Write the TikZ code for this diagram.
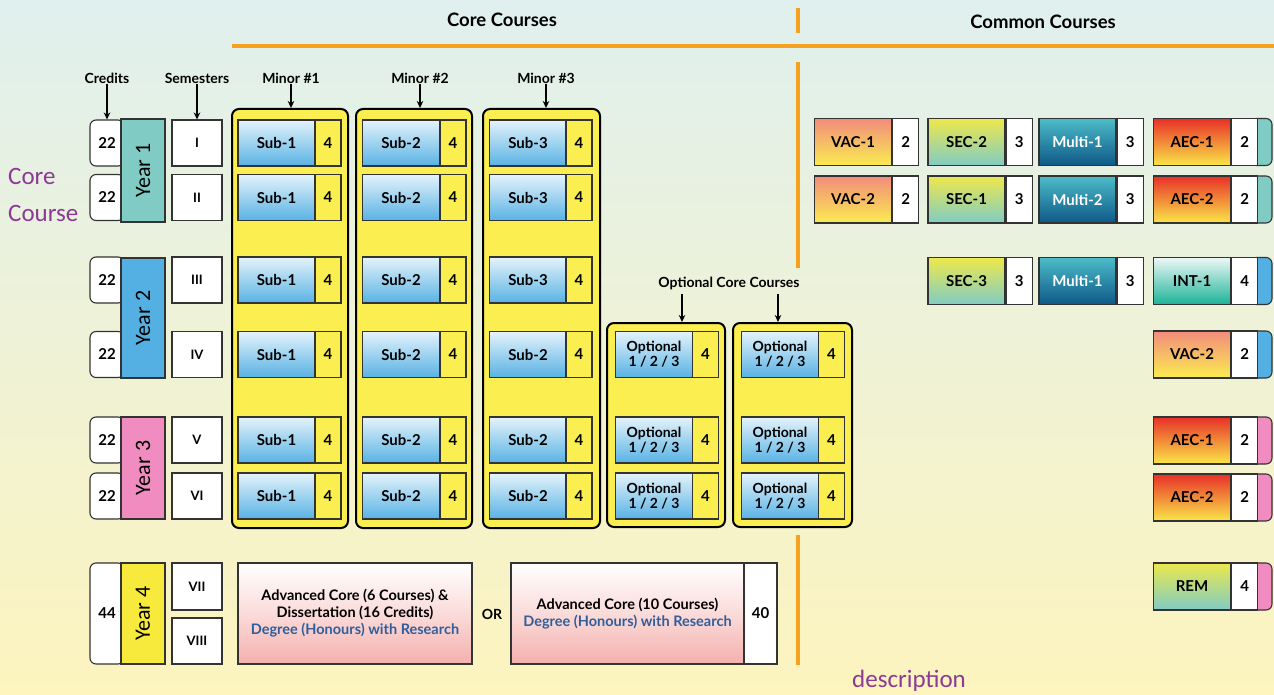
\documentclass[tikz,border=0pt]{standalone}
\usepackage{fontspec}
\usepackage{graphicx}
\setmainfont{Lato}
\newfontfamily\calib{Carlito}
\usetikzlibrary{arrows.meta,calc}
\definecolor{bgT}{RGB}{224,240,238}
\definecolor{bgB}{RGB}{253,244,190}
\definecolor{ybox}{RGB}{250,238,80}
\definecolor{subT}{RGB}{228,243,251}
\definecolor{subB}{RGB}{88,178,228}
\definecolor{yearA}{RGB}{128,204,196}
\definecolor{yearB}{RGB}{84,176,226}
\definecolor{yearC}{RGB}{240,140,192}
\definecolor{yearD}{RGB}{248,234,60}
\definecolor{orng}{RGB}{246,162,30}
\definecolor{purp}{RGB}{140,58,150}
\definecolor{degblue}{RGB}{48,94,156}
\definecolor{advpink}{RGB}{244,176,172}
\definecolor{vacT}{RGB}{242,140,124}
\definecolor{vacB}{RGB}{250,236,80}
\definecolor{secT}{RGB}{238,232,76}
\definecolor{secB}{RGB}{128,204,196}
\definecolor{mulT}{RGB}{76,188,200}
\definecolor{mulB}{RGB}{14,88,136}
\definecolor{aecT}{RGB}{232,48,40}
\definecolor{aecB}{RGB}{250,230,72}
\definecolor{intT}{RGB}{236,248,246}
\definecolor{intB}{RGB}{28,178,152}
\definecolor{remT}{RGB}{236,232,76}
\definecolor{remB}{RGB}{128,204,196}
\newcommand{\ccourse}[6]{%
  \node[cc,top color=#6T,bottom color=#6B] (#1) at (#2,#3) {#4};
  \node[ccn,anchor=west] (#1n) at (#1.east) {#5};}
\newcommand{\tabbox}[4]{%
  \node[tabs,fill=#4] (#1) at (#2+69.25,#3) {};}
\begin{document}
\begin{tikzpicture}[x=1pt,y=-1pt,
  lbl/.style={font=\bfseries\fontsize{14}{15}\selectfont,inner sep=1pt},
  bx/.style={draw=black!80,line width=1.1pt,inner sep=0pt,align=center,font=\bfseries\fontsize{15}{16}\selectfont},
  sub/.style={bx,top color=subT,bottom color=subB,minimum width=77,minimum height=46},
  crd/.style={bx,fill=ybox,minimum width=26,minimum height=46},
  cont/.style={draw=black,line width=2pt,fill=ybox,rounded corners=7pt,inner sep=0pt},
  credbox/.style={bx,fill=white,minimum width=34,rounded corners=6pt},
  yearbox/.style={bx,minimum width=44,font=\calib\fontsize{22}{22}\selectfont},
  sem/.style={bx,fill=white,minimum width=50,minimum height=46,font=\bfseries\fontsize{13}{14}\selectfont},
  opt/.style={sub,font=\bfseries\fontsize{14}{15}\selectfont},
  cc/.style={bx,minimum width=77,minimum height=47},
  ccn/.style={bx,fill=white,minimum width=26,minimum height=47},
  tabs/.style={bx,minimum width=21.5,minimum height=47,rounded corners=6pt},
  arr/.style={-{Stealth[length=7pt,width=6.5pt]},line width=1.4pt},
  oline/.style={orng,line width=4pt},
  adv/.style={bx,font=\bfseries\fontsize{14.5}{17}\selectfont,top color=white,bottom color=advpink,middle color=white!55!advpink,minimum width=234,minimum height=101},
  side/.style={font=\calib\fontsize{25}{25}\selectfont,text=purp,inner sep=0pt}
]
\shade[top color=bgT,bottom color=bgB] (0,0) rectangle (1274,695);
\useasboundingbox (0,0) rectangle (1274,695);

% orange rules
\draw[oline] (232,46) -- (1274,46);
\draw[oline] (798,8) -- (798,33);
\draw[oline] (798,62) -- (798,268);
\draw[oline] (798,535) -- (798,665);

% headers
\node[font=\bfseries\fontsize{18.5}{19}\selectfont] (hcore) at (502,20) {Core Courses};
\node[font=\bfseries\fontsize{18.5}{19}\selectfont] (hcommon) at (1043,22) {Common Courses};

\node[lbl] (lcred) at (107,78) {Credits};
\node[lbl] (lsem) at (197,78) {Semesters};
\node[lbl] (lm1) at (291,78) {Minor \#1};
\node[lbl] (lm2) at (420,78) {Minor \#2};
\node[lbl] (lm3) at (546,78) {Minor \#3};
\node[lbl] (lopt) at (729,283) {Optional Core Courses};

% containers
\node[cont,minimum width=116,minimum height=419] (m1) at (290,318.5) {};
\node[cont,minimum width=116,minimum height=419] (m2) at (414,318.5) {};
\node[cont,minimum width=117,minimum height=419] (m3) at (541.5,318.5) {};
\node[cont,minimum width=118,minimum height=204] (o1) at (666,425) {};
\node[cont,minimum width=119,minimum height=204] (o2) at (792.5,425) {};

% rows
\foreach \r/\y/\t in {1/143/Sub-3,2/197.5/Sub-3,3/280/Sub-3,4/354.5/Sub-2,5/440/Sub-2,6/496/Sub-2}{
  \node[sub] (a\r) at (276.5,\y) {Sub-1};
  \node[crd] (ac\r) at (328,\y) {4};
  \node[sub] (b\r) at (401,\y) {Sub-2};
  \node[crd] (bc\r) at (453,\y) {4};
  \node[sub] (d\r) at (528,\y) {\t};
  \node[crd] (dc\r) at (579,\y) {4};
  \node[credbox,minimum height=46] (c\r) at (107,\y) {22};
}
\foreach \r/\y/\t in {1/143/I,2/197.5/II,3/280/III,4/354.5/IV,5/440/V,6/496/VI}{
  \node[sem] (s\r) at (197,\y) {\t};
}
\foreach \r/\y in {4/354.5,5/440,6/496}{
  \node[opt] (p\r) at (654,\y) {Optional\\1 / 2 / 3};
  \node[crd] (pc\r) at (705.5,\y) {4};
  \node[opt] (q\r) at (780,\y) {Optional\\1 / 2 / 3};
  \node[crd] (qc\r) at (831.5,\y) {4};
}

% years
\node[yearbox,fill=yearA,minimum height=103] (y1) at (143,170.5) {\rotatebox{90}{Year 1}};
\node[yearbox,fill=yearB,minimum height=120] (y2) at (143,318) {\rotatebox{90}{Year 2}};
\node[yearbox,fill=yearC,minimum height=102] (y3) at (143,468) {\rotatebox{90}{Year 3}};

% year 4
\node[credbox,minimum height=101] (c7) at (107,613.5) {44};
\node[yearbox,fill=yearD,minimum height=101] (y4) at (143,613.5) {\rotatebox{90}{Year 4}};
\node[sem,minimum height=47] (s7) at (197,586.5) {VII};
\node[sem] (s8) at (197,641) {VIII};
\node[adv] (adv1) at (355,613.5) {Advanced Core (6 Courses) \&\\Dissertation (16 Credits)\\\textcolor{degblue}{Degree (Honours) with Research}};
\node[lbl] (or) at (492,614) {OR};
\node[adv,minimum width=233] (adv2) at (627.5,613.5) {Advanced Core (10 Courses)\\\textcolor{degblue}{Degree (Honours) with Research}};
\node[bx,fill=white,minimum width=33,minimum height=101] (c40) at (760.5,613.5) {40};

% arrows
\draw[arr] (lcred) -- (c1);
\draw[arr] (lsem) -- (s1);
\draw[arr] (lm1) -- (lm1 |- m1.north);
\draw[arr] (lm2) -- (lm2 |- m2.north);
\draw[arr] (lm3) -- (lm3 |- m3.north);
\coordinate (oa1) at (682,294);
\coordinate (oa2) at (778,294);
\draw[arr] (oa1) -- (oa1 |- o1.north);
\draw[arr] (oa2) -- (oa2 |- o2.north);

% common courses
\tabbox{t1}{1192}{142}{yearA}
\tabbox{t2}{1192}{199.5}{yearA}
\tabbox{t3}{1192}{281}{yearB}
\tabbox{t4}{1192}{354.5}{yearB}
\tabbox{t5}{1192}{440.5}{yearC}
\tabbox{t6}{1192}{497.5}{yearC}
\tabbox{t7}{1192}{586.5}{yearC}
\ccourse{vac1}{853}{142}{VAC-1}{2}{vac}
\ccourse{sec2}{966.5}{142}{SEC-2}{3}{sec}
\ccourse{mul1}{1077.5}{142}{\textcolor{white}{Multi-1}}{3}{mul}
\ccourse{aec1}{1192}{142}{AEC-1}{2}{aec}
\ccourse{vac2}{853}{199.5}{VAC-2}{2}{vac}
\ccourse{sec1}{966.5}{199.5}{SEC-1}{3}{sec}
\ccourse{mul2}{1077.5}{199.5}{\textcolor{white}{Multi-2}}{3}{mul}
\ccourse{aec2}{1192}{199.5}{AEC-2}{2}{aec}
\ccourse{sec3}{966.5}{281}{SEC-3}{3}{sec}
\ccourse{mul3}{1077.5}{281}{\textcolor{white}{Multi-1}}{3}{mul}
\ccourse{int1}{1192}{281}{INT-1}{4}{int}
\ccourse{vac3}{1192}{354.5}{VAC-2}{2}{vac}
\ccourse{aec3}{1192}{440.5}{AEC-1}{2}{aec}
\ccourse{aec4}{1192}{497.5}{AEC-2}{2}{aec}
\ccourse{rem}{1192}{586.5}{REM}{4}{rem}

% side texts
\node[side,anchor=west] (core) at (8,176) {Core};
\node[side,anchor=west] (course) at (8,213) {Course};
\node[side] (desc) at (909,681) {description};
\end{tikzpicture}
\end{document}
